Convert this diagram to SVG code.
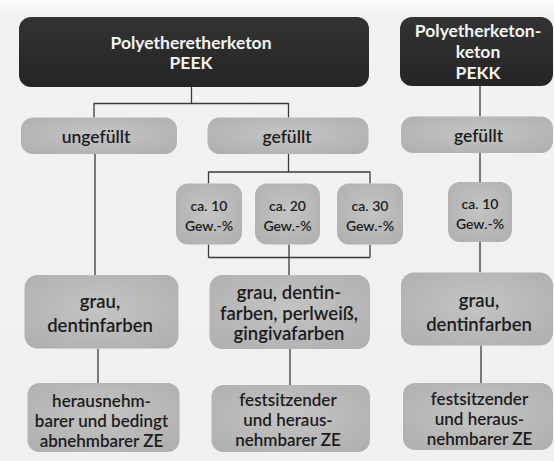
<svg xmlns="http://www.w3.org/2000/svg" width="554" height="461" viewBox="0 0 554 461">
  <defs>
    <radialGradient id="gGray" cx="0.5" cy="0.45" r="0.7">
      <stop offset="0" stop-color="#c4c4c4"/>
      <stop offset="1" stop-color="#afafaf"/>
    </radialGradient>
    <linearGradient id="gDark" x1="0" y1="0" x2="0" y2="1">
      <stop offset="0" stop-color="#333333"/>
      <stop offset="1" stop-color="#252525"/>
    </linearGradient>
    <linearGradient id="gBg" x1="0" y1="0" x2="0" y2="1">
      <stop offset="0" stop-color="#fbfbfb"/>
      <stop offset="0.035" stop-color="#f2f2f2"/>
      <stop offset="1" stop-color="#f0f0f0"/>
    </linearGradient>
  </defs>
  <style>
    .dark { fill: url(#gDark); }
    .gray { fill: url(#gGray); }
    .tw { font-family: Lato, "Open Sans", "DejaVu Sans", sans-serif; font-weight: 700; fill: #f4f4f4; text-anchor: middle; font-size: 17.5px; }
    .t { font-family: Lato, "Open Sans", "DejaVu Sans", sans-serif; font-weight: 600; fill: #1c1c1c; text-anchor: middle; }
    .t1 { font-size: 17.5px; }
    .ts { font-size: 14px; }
    .tg { font-size: 18.5px; }
    .tb { font-size: 17px; }
    .conn path { fill: none; stroke: #3a3a3a; stroke-width: 1.3; }
  </style>

  <rect x="0" y="0" width="554" height="461" fill="url(#gBg)"/>

  <g class="conn" id="connectors">
    <path d="M191.5 87 V103.5 M94 103.5 H288.5 M94 103 V117.5 M288.5 103 V117.5"/>
    <path d="M95 154 V275"/>
    <path d="M288.5 154 V172 M208.5 172 H370 M208.5 171.5 V183.5 M370 171.5 V183.5"/>
    <path d="M208.5 244.5 V257.5 M370 244.5 V257.5 M208.5 257.5 H370 M289 244.5 V275"/>
    <path d="M98 348.5 V383"/>
    <path d="M290 349 V385"/>
    <path d="M480 86 V116.5 M480 153 V182 M480 242 V272.5 M481 345.5 V383"/>
  </g>

  <g id="peek">
    <rect class="dark" x="19" y="17" width="350" height="70" rx="12"/>
    <text class="tw" x="191" y="48.5">Polyetheretherketon</text>
    <text class="tw" x="191" y="68.5">PEEK</text>
  </g>

  <g id="pekk">
    <rect class="dark" x="400" y="17" width="153" height="69" rx="12"/>
    <text class="tw" x="478" y="37">Polyetherketon-</text>
    <text class="tw" x="478" y="58">keton</text>
    <text class="tw" x="478" y="79">PEKK</text>
  </g>

  <g id="peek-ungefuellt">
    <rect class="gray" x="21" y="117.5" width="156" height="36.5" rx="12"/>
    <text class="t t1" x="96" y="143">ungefüllt</text>
  </g>

  <g id="peek-gefuellt">
    <rect class="gray" x="207.5" y="117.5" width="161" height="36.5" rx="12"/>
    <text class="t t1" x="287" y="143">gefüllt</text>
  </g>

  <g id="pekk-gefuellt">
    <rect class="gray" x="401" y="116.5" width="152" height="36.5" rx="12"/>
    <text class="t t1" x="478.5" y="142">gefüllt</text>
  </g>

  <g id="peek-10">
    <rect class="gray" x="176" y="183.5" width="66" height="61" rx="12"/>
    <text class="t ts" x="209" y="210.5">ca. 10</text>
    <text class="t ts" x="209" y="230.5">Gew.-%</text>
  </g>

  <g id="peek-20">
    <rect class="gray" x="255" y="183.5" width="65" height="61" rx="12"/>
    <text class="t ts" x="287.5" y="210.5">ca. 20</text>
    <text class="t ts" x="287.5" y="230.5">Gew.-%</text>
  </g>

  <g id="peek-30">
    <rect class="gray" x="337" y="183.5" width="66" height="61" rx="12"/>
    <text class="t ts" x="370" y="210.5">ca. 30</text>
    <text class="t ts" x="370" y="230.5">Gew.-%</text>
  </g>

  <g id="pekk-10">
    <rect class="gray" x="448" y="182" width="64" height="60" rx="12"/>
    <text class="t ts" x="480" y="209">ca. 10</text>
    <text class="t ts" x="480" y="229">Gew.-%</text>
  </g>

  <g id="peek-farben-ungefuellt">
    <rect class="gray" x="24.5" y="275" width="154" height="73.5" rx="13"/>
    <text class="t tg" x="100" y="308">grau,</text>
    <text class="t tg" x="100" y="332">dentinfarben</text>
  </g>

  <g id="peek-farben-gefuellt">
    <rect class="gray" x="209.5" y="275" width="160.5" height="74" rx="13"/>
    <text class="t tg" x="289" y="299">grau, dentin-</text>
    <text class="t tg" x="289" y="319.5">farben, perlweiß,</text>
    <text class="t tg" x="289" y="340">gingivafarben</text>
  </g>

  <g id="pekk-farben">
    <rect class="gray" x="401" y="272.5" width="152" height="73" rx="13"/>
    <text class="t tg" x="479" y="307">grau,</text>
    <text class="t tg" x="479" y="331">dentinfarben</text>
  </g>

  <g id="peek-ze-ungefuellt">
    <rect class="gray" x="27.5" y="383" width="152" height="69" rx="12"/>
    <text class="t tb" x="101.5" y="407">herausnehm-</text>
    <text class="t tb" x="101.5" y="427">barer und bedingt</text>
    <text class="t tb" x="101.5" y="446.5">abnehmbarer ZE</text>
  </g>

  <g id="peek-ze-gefuellt">
    <rect class="gray" x="211.5" y="385" width="158.5" height="67" rx="12"/>
    <text class="t tb" x="288" y="405.5">festsitzender</text>
    <text class="t tb" x="288" y="425.5">und heraus-</text>
    <text class="t tb" x="288" y="445.5">nehmbarer ZE</text>
  </g>

  <g id="pekk-ze">
    <rect class="gray" x="403" y="383" width="150" height="67" rx="12"/>
    <text class="t tb" x="479.5" y="405">festsitzender</text>
    <text class="t tb" x="479.5" y="425">und heraus-</text>
    <text class="t tb" x="479.5" y="445">nehmbarer ZE</text>
  </g>
</svg>
